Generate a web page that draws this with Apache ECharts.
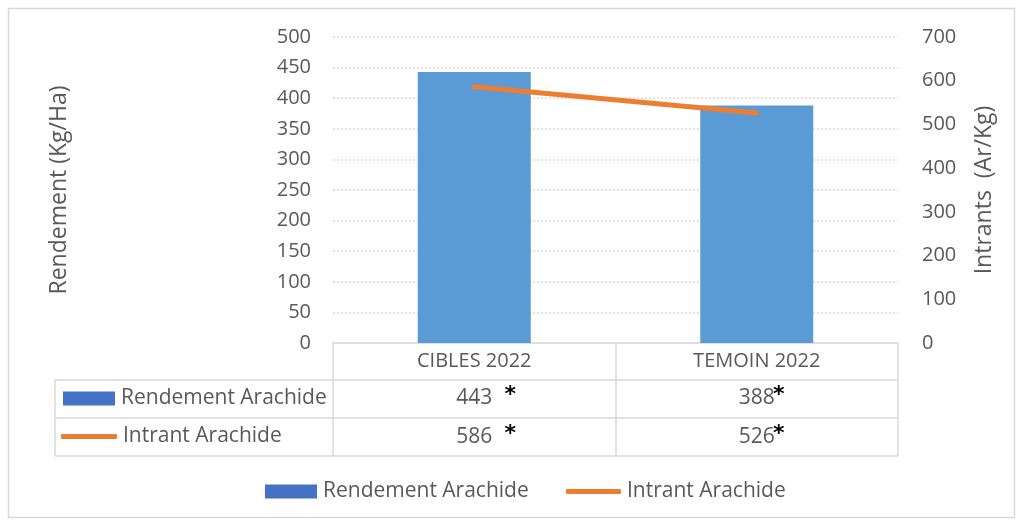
<!DOCTYPE html>
<html>
<head>
<meta charset="utf-8">
<script src="https://cdn.jsdelivr.net/npm/echarts@6/dist/echarts.min.js"></script>
<style>
    html, body { margin: 0; padding: 0; background: #fff; }
    #chart { width: 1023px; height: 526px; }
</style>
</head>
<body>
<div id="chart"></div>
<script>
// data
var categories = ['CIBLES 2022', 'TEMOIN 2022'];
var rendement = [443, 388];
var intrant = [586, 526];
var marks = ['*', '*'];
var leftTicks = {min: 0, max: 500, interval: 50};
var rightTicks = {min: 0, max: 700, interval: 100};

var FONT = 'Open Sans';
var TXT = '#595959';
var BORDER = '#d9d9d9';

var chart = echarts.init(document.getElementById('chart'));

function legendBox(name, color, left, top, w, h, icon) {
    return {
        data: [{name: name, itemStyle: {color: color}}],
        left: left,
        top: top,
        padding: 0,
        itemWidth: w,
        itemHeight: h,
        itemGap: 5,
        icon: icon,
        selectedMode: false,
        textStyle: {fontFamily: FONT, fontSize: 21, color: TXT, padding: [0, 0, 0, 1]}
    };
}

var option = {
    animation: false,
    backgroundColor: '#fff',
    grid: {left: 333, right: 125, top: 37, bottom: 183},
    legend: [
        legendBox('Rendement Arachide', '#4472C4', 265, 481, 52, 14, 'rect'),
        legendBox('Intrant Arachide', '#ED7D31', 566, 481, 55, 5, 'roundRect'),
        legendBox('Rendement Arachide', '#4472C4', 63, 388, 52, 14, 'rect'),
        legendBox('Intrant Arachide', '#ED7D31', 61, 426, 56, 5, 'roundRect')
    ],
    xAxis: {
        type: 'category',
        data: categories,
        axisLine: {lineStyle: {color: BORDER, width: 1.5}},
        axisTick: {show: true, length: 113, lineStyle: {color: BORDER, width: 1.5}},
        axisLabel: {fontFamily: FONT, fontSize: 20, color: TXT, margin: 8}
    },
    yAxis: [
        {
            type: 'value',
            min: leftTicks.min, max: leftTicks.max, interval: leftTicks.interval,
            name: 'Rendement (Kg/Ha)',
            nameLocation: 'middle',
            nameRotate: 90,
            nameGap: 262,
            nameTextStyle: {fontFamily: FONT, fontSize: 23, color: TXT},
            axisLine: {show: false},
            axisTick: {show: false},
            axisLabel: {fontFamily: FONT, fontSize: 20, color: TXT, margin: 22},
            splitLine: {lineStyle: {color: BORDER, type: [2, 2], width: 1.5}}
        },
        {
            type: 'value',
            min: rightTicks.min, max: rightTicks.max, interval: rightTicks.interval,
            name: 'Intrants  (Ar/Kg)',
            nameLocation: 'middle',
            nameRotate: 90,
            nameGap: 75,
            nameTextStyle: {fontFamily: FONT, fontSize: 23, color: TXT},
            axisLine: {show: false},
            axisTick: {show: false},
            axisLabel: {fontFamily: FONT, fontSize: 20, color: TXT, margin: 24},
            splitLine: {show: false}
        }
    ],
    series: [
        {
            name: 'Rendement Arachide',
            type: 'bar',
            data: rendement,
            barWidth: '40%',
            itemStyle: {color: '#5B9BD5'}
        },
        {
            name: 'Intrant Arachide',
            type: 'line',
            yAxisIndex: 1,
            data: intrant,
            symbol: 'none',
            lineStyle: {color: '#ED7D31', width: 5, cap: 'round'},
            itemStyle: {color: '#ED7D31'}
        }
    ]
};

chart.setOption(option);

// data table under the axis (row lines + values)
var rows = [rendement, intrant];
var rowY = [398, 437];
var graphics = [
    {type: 'rect', shape: {x: 8.5, y: 8.5, width: 1006, height: 509}, style: {fill: null, stroke: BORDER, lineWidth: 1.5}, silent: true},
    {type: 'line', shape: {x1: 55, y1: 380, x2: 898, y2: 380}, style: {stroke: BORDER, lineWidth: 1.5}},
    {type: 'line', shape: {x1: 55, y1: 418, x2: 898, y2: 418}, style: {stroke: BORDER, lineWidth: 1.5}},
    {type: 'line', shape: {x1: 55, y1: 456, x2: 898, y2: 456}, style: {stroke: BORDER, lineWidth: 1.5}},
    {type: 'line', shape: {x1: 55, y1: 380, x2: 55, y2: 456}, style: {stroke: BORDER, lineWidth: 1.5}}
];
var starOffset = [36, 22];
for (var r = 0; r < rows.length; r++) {
    for (var i = 0; i < categories.length; i++) {
        var cx = chart.convertToPixel({xAxisIndex: 0}, categories[i]);
        graphics.push({
            type: 'text',
            x: cx, y: rowY[r],
            style: {text: String(rows[r][i]), fontFamily: FONT, fontSize: 21, fill: TXT, align: 'center', verticalAlign: 'middle'}
        });
        graphics.push({
            type: 'text',
            x: cx + starOffset[i], y: rowY[r] - 3,
            style: {text: marks[i], fontFamily: 'DejaVu Sans', fontWeight: 'bold', fontSize: 22, fill: '#000', align: 'center', verticalAlign: 'middle'}
        });
    }
}
chart.setOption({graphic: graphics});
</script>
</body>
</html>
